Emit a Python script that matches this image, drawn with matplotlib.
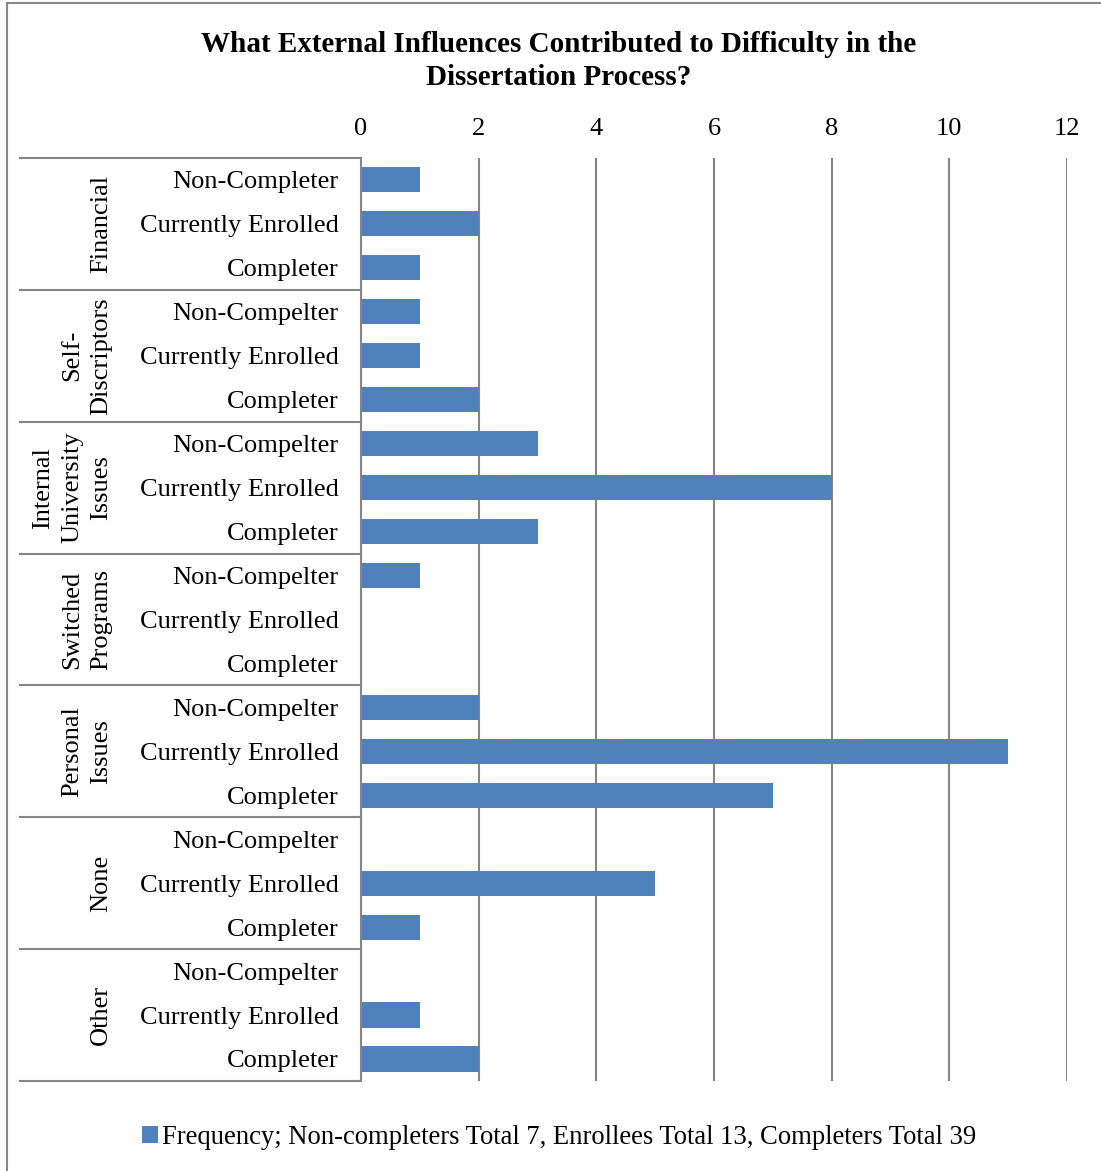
import matplotlib.pyplot as plt
from matplotlib.patches import Rectangle
from matplotlib.transforms import blended_transform_factory

plt.rcParams['font.family'] = ['Liberation Serif', 'DejaVu Serif']

# Data (top to bottom as shown)
groups = ['Financial', 'Self-\nDiscriptors', 'Internal\nUniversity\nIssues',
          'Switched\nPrograms', 'Personal\nIssues', 'None', 'Other']
row_labels = ['Non-Completer', 'Currently Enrolled', 'Completer',
              'Non-Compelter', 'Currently Enrolled', 'Completer',
              'Non-Compelter', 'Currently Enrolled', 'Completer',
              'Non-Compelter', 'Currently Enrolled', 'Completer',
              'Non-Compelter', 'Currently Enrolled', 'Completer',
              'Non-Compelter', 'Currently Enrolled', 'Completer',
              'Non-Compelter', 'Currently Enrolled', 'Completer']
values = [1, 2, 1,
          1, 1, 2,
          3, 8, 3,
          1, 0, 0,
          2, 11, 7,
          0, 5, 1,
          0, 1, 2]
x_ticks = [0, 2, 4, 6, 8, 10, 12]

bar_color = '#4F81BD'
line_color = '#868686'

fig = plt.figure(figsize=(11.01, 11.71), dpi=100)
ax = fig.add_axes([0.3279, 0.0769, 0.6412, 0.7882])

pos = list(range(len(values)))
ax.barh(pos, values, height=0.57, color=bar_color,
        label='Frequency; Non-completers Total 7, Enrollees Total 13, Completers Total 39', zorder=3)

ax.set_xlim(0, 12)
ax.set_ylim(len(values) - 0.5, -0.5)
ax.set_xticks(x_ticks)
ax.xaxis.tick_top()
ax.tick_params(axis='x', length=0, pad=13, labelsize=19)
ax.set_yticks(pos)
ax.set_yticklabels(row_labels)
ax.tick_params(axis='y', length=0, pad=16, labelsize=19)
ax.grid(axis='x', color=line_color, linewidth=1.5, zorder=0)
for s in ax.spines.values():
    s.set_visible(False)

# category box lines
trans = blended_transform_factory(ax.transAxes, ax.transData)
x_left = -0.483
ax.plot([0, 0], [-0.5, len(values) - 0.5], transform=trans, color=line_color,
        lw=1.5, clip_on=False, zorder=4)
for g in range(len(groups) + 1):
    yb = g * 3 - 0.5
    ax.plot([x_left, 0], [yb, yb], transform=trans, color=line_color,
            lw=1.5, clip_on=False)

for g, name in enumerate(groups):
    ax.text(-0.353, g * 3 + 1, name, transform=trans, rotation=90,
            ha='right', va='center', multialignment='center', fontsize=19,
            linespacing=1.4)

fig.text(0.507, 0.9735, 'What External Influences Contributed to Difficulty in the\nDissertation Process?',
         ha='center', va='top', fontsize=21, fontweight='bold', linespacing=1.3)

fig.legend(loc='center', bbox_to_anchor=(0.508, 0.0285), frameon=False, fontsize=19.2,
           handlelength=0.6, handleheight=0.6, handletextpad=0.15)

# outer border
fig.add_artist(Rectangle((0.0064, -0.01), 1.0, 0.9974 + 0.01, fill=False,
                         ec='#888888', lw=1.5, transform=fig.transFigure))

fig.savefig('out.png', dpi=100)
